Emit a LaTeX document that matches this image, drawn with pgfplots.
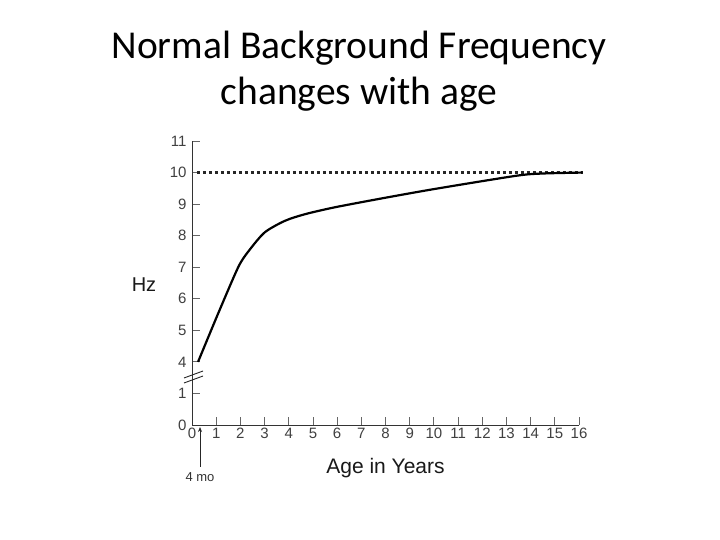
\documentclass[border=0pt]{standalone}
\usepackage{pgfplots}
\pgfplotsset{compat=1.18}
\usepackage{fontspec}
\setmainfont{Liberation Sans}
\newfontfamily\titlefont{Carlito}
\usetikzlibrary{arrows.meta}
\begin{document}
\begin{tikzpicture}
\useasboundingbox[fill=white] (0,0) rectangle (720bp,540bp);
\node[align=center, font=\titlefont\fontsize{39.5bp}{46bp}\selectfont, anchor=center] at (359bp,469bp)
  {Normal Background Frequency\\changes with age};
\begin{axis}[
  at={(192bp,115bp)}, anchor=south west,
  scale only axis, width=387bp, height=284bp,
  xmin=0, xmax=16, ymin=0, ymax=9,
  enlargelimits=false, clip=false,
  axis lines=left,
  axis line style={-, black!80, line width=0.8bp},
  tick align=inside,
  major tick length=8bp,
  tick style={black!60, line width=0.8bp},
  xtick={0,1,...,16},
  ytick={0,1,...,9},
  yticklabels={0,1,4,5,6,7,8,9,10,11},
  tick label style={font=\fontsize{15bp}{17bp}\selectfont, text=black!75},
  yticklabel style={xshift=-2bp},
  /pgf/number format/assume math mode=true,
  xlabel={Age in Years},
  xlabel style={at={(axis description cs:0.5,-0.15)}, anchor=center, font=\fontsize{21bp}{23bp}\selectfont, text=black!90},
  ylabel={Hz},
  ylabel style={at={(axis description cs:-0.124,0.496)}, anchor=center, rotate=-90, font=\fontsize{20bp}{22bp}\selectfont, text=black!90},
  y filter/.expression={y-2},
]
% reference level (10 Hz)
\addplot[black!85, line width=2.2bp, dash pattern=on 3.5bp off 2.5bp] coordinates {(0.2,10) (16.15,10)};
% background frequency curve (Hz)
\addplot[black, line width=2.2bp, smooth, tension=0.45] coordinates {
 (0.25,4.0) (1.09,5.55) (1.91,7.0) (2.33,7.5) (3.0,8.1) (3.84,8.47) (4.67,8.68)
 (5.91,8.9) (7.98,9.2) (10.11,9.49) (13.42,9.9) (14.5,9.97) (16.15,10.0)};
\end{axis}
% axis break marks
\draw[black!85, line width=0.9bp] (184bp,162bp) -- (203bp,169bp);
\draw[black!85, line width=0.9bp] (184bp,157bp) -- (203bp,164bp);
% 4 months pointer
\draw[black!85, line width=0.8bp, -{Stealth[length=5bp,width=4bp]}] (200bp,73bp) -- (200bp,113bp);
\node[font=\fontsize{13bp}{15bp}\selectfont, text=black!80] at (200bp,63bp) {4 mo};
\end{tikzpicture}
\end{document}
